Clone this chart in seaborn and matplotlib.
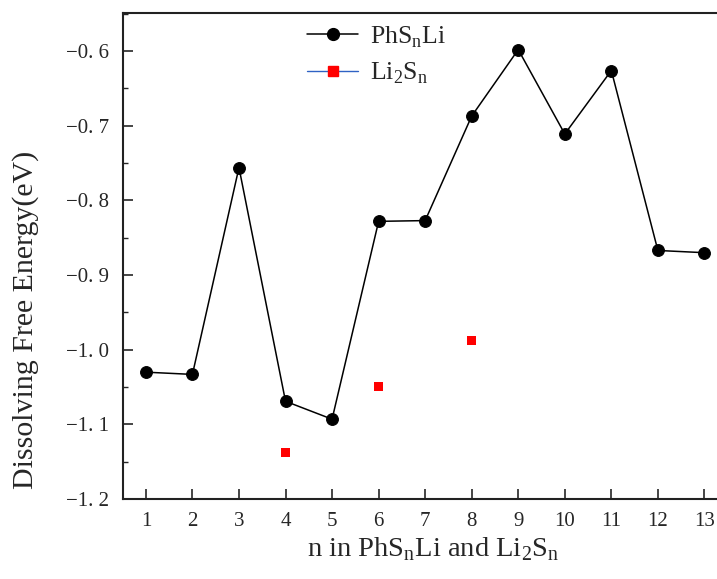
import numpy as np
import pandas as pd
import seaborn as sns
import matplotlib.pyplot as plt
from matplotlib.lines import Line2D
from matplotlib.ticker import MultipleLocator


# PhSnLi and Li2Sn dissolving free energies (eV)
n_phs = [1, 2, 3, 4, 5, 6, 7, 8, 9, 10, 11, 12, 13]
phs_li = [-1.030, -1.033, -0.756, -1.069, -1.093, -0.828, -0.827,
          -0.687, -0.598, -0.711, -0.626, -0.867, -0.870]
n_li2s = [4, 6, 8]
li2s = [-1.137, -1.049, -0.988]

ytick_vals = [-1.2, -1.1, -1.0, -0.9, -0.8, -0.7, -0.6]
ytick_labels = ['\u22121. 2', '\u22121. 1', '\u22121. 0', '\u22120. 9',
                '\u22120. 8', '\u22120. 7', '\u22120. 6']

phsdf = pd.DataFrame({'n': n_phs, 'energy': phs_li})
li2sdf = pd.DataFrame({'n': n_li2s, 'energy': li2s})

sns.set_style('ticks')
plt.rcParams['font.family'] = ['Liberation Serif', 'DejaVu Serif']
plt.rcParams['mathtext.fontset'] = 'custom'
plt.rcParams['mathtext.rm'] = 'Liberation Serif'

fig = plt.figure(figsize=(7.17, 5.79), dpi=100)
ax = fig.add_axes([0.171, 0.138, 0.829, 0.8395])

sns.lineplot(data=phsdf, x='n', y='energy', ax=ax, color='black', linewidth=1.1,
             marker='o', markersize=8.5, markeredgecolor='black')
sns.scatterplot(data=li2sdf, x='n', y='energy', ax=ax, color='#ff0000',
                marker='s', s=42, edgecolor='none')

ax.set_xlim(0.5, 13.27)
ax.set_ylim(-1.2, -0.549)
ax.set_xticks(n_phs)
ax.set_xticklabels([str(v) for v in n_phs])
ax.set_yticks(ytick_vals)
ax.set_yticklabels(ytick_labels)
ax.yaxis.set_minor_locator(MultipleLocator(0.05))

ax.tick_params(axis='both', which='major', direction='in', length=7, width=1.2,
               labelsize=15)
ax.tick_params(axis='x', which='major', pad=9)
ax.tick_params(axis='y', which='major', pad=9.5)
ax.tick_params(axis='y', which='minor', direction='in', length=3.5, width=1.0)
ax.tick_params(axis='x', which='minor', bottom=False)

for side in ['left', 'bottom', 'top']:
    ax.spines[side].set_linewidth(1.5)
    ax.spines[side].set_color('#222222')
ax.spines['right'].set_visible(False)

ax.set_xlabel(r'n in PhS$_\mathregular{n}$Li and Li$_\mathregular{2}$S$_\mathregular{n}$',
              fontsize=20.5)
ax.set_ylabel('Dissolving Free Energy(eV)', fontsize=21.5)
ax.xaxis.set_label_coords(0.522, -0.074)
ax.yaxis.set_label_coords(-0.141, 0.368)

handles = [
    Line2D([], [], color='black', linewidth=1.1, marker='o', markersize=8.5),
    Line2D([], [], color='#2f62c4', linewidth=1.0, marker='s', markersize=6.5,
           markerfacecolor='#ff0000', markeredgecolor='#ff0000'),
]
labels = [r'PhS$_\mathregular{n}$Li', r'Li$_\mathregular{2}$S$_\mathregular{n}$']
ax.legend(handles, labels, loc='upper left', bbox_to_anchor=(0.428, 0.958),
          bbox_transform=fig.transFigure, frameon=False, fontsize=18.5,
          handlelength=2.0, handletextpad=0.45, labelspacing=0.42,
          borderpad=0, borderaxespad=0)

fig.savefig('out.png', dpi=100)
